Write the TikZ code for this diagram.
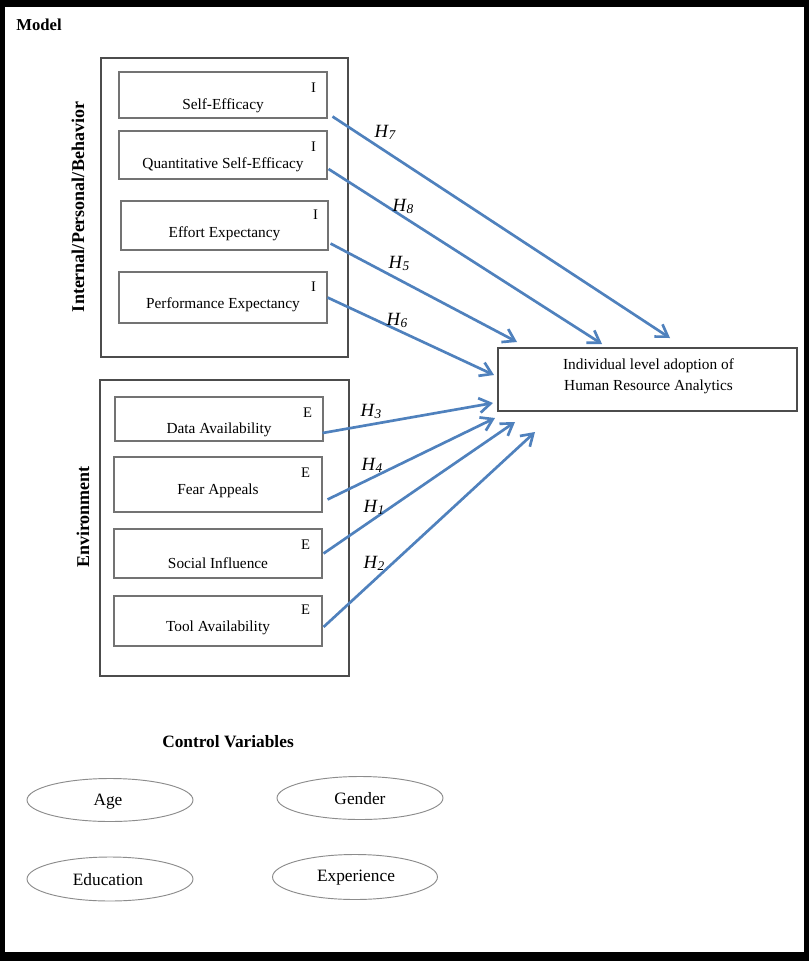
\documentclass[tikz,border=0pt]{standalone}
\usepackage{fontspec}
\setmainfont{Liberation Serif}
\usetikzlibrary{arrows.meta,calc,shapes.geometric}

\begin{document}
\begin{tikzpicture}[x=0.75pt,y=-0.75pt,
  sz/.style 2 args={minimum width=#1*0.75pt,minimum height=#2*0.75pt,inner sep=0pt},
  groupbox/.style={draw=black!70,line width=0.9pt},
  varbox/.style={draw=black!55,line width=0.8pt,fill=white},
  outcome/.style={draw=black!70,line width=0.9pt,fill=white},
  ctrl/.style={draw=black!45,line width=0.7pt,ellipse,inner sep=0pt},
  txt/.style={font=\fontsize{11.5}{13}\selectfont,inner sep=0pt},
  tag/.style={font=\fontsize{11}{13}\selectfont,inner sep=0pt},
  side/.style={font=\fontsize{13.5}{15}\selectfont\bfseries,rotate=90,inner sep=0pt},
  hyp/.style={font=\fontsize{14}{16}\selectfont\itshape,inner sep=0pt},
  link/.style={color={rgb,255:red,79;green,129;blue,189},line width=2pt,
    -{Straight Barb[length=8.5pt,width=11pt,line width=2pt]}},
  ctrltxt/.style={font=\fontsize{13}{15}\selectfont,inner sep=0pt}
]
\newcommand{\hlab}[1]{H\kern0.3pt\raisebox{-1.5pt}{\fontsize{10}{10}\selectfont #1}}

\useasboundingbox (0,0) rectangle (809,961);
% frame
\fill[black] (0,0) rectangle (809,961);
\fill[white] (5,7) rectangle (804,952);

\node[font=\fontsize{12.5}{14}\selectfont\bfseries,anchor=west,inner sep=0pt] (title) at (16,25) {Model};

% group boxes
\node[groupbox,sz={247}{299}] (intgrp) at (224.5,207.5) {};
\node[groupbox,sz={249}{296}] (envgrp) at (224.5,528) {};
\node[side] (intlab) at (78,207) {Internal/Personal/Behavior};
\node[side] (envlab) at (83,517) {Environment};

% internal variables
\node[varbox,sz={208}{46}] (se) at (223,95) {};
\node[txt] (se-t) at ($(se.center)+(0,11)$) {Self-Efficacy};
\node[tag] (se-i) at ($(se.north east)+(-14,16)$) {I};

\node[varbox,sz={208}{48}] (qse) at (223,155) {};
\node[txt] (qse-t) at ($(qse.center)+(0,10)$) {Quantitative Self-Efficacy};
\node[tag] (qse-i) at ($(qse.north east)+(-14,16)$) {I};

\node[varbox,sz={207}{49}] (ee) at (224.5,225.5) {};
\node[txt] (ee-t) at ($(ee.center)+(0,8)$) {Effort Expectancy};
\node[tag] (ee-i) at ($(ee.north east)+(-13,14)$) {I};

\node[varbox,sz={208}{51}] (pe) at (223,297.5) {};
\node[txt] (pe-t) at ($(pe.center)+(0,7)$) {Performance Expectancy};
\node[tag] (pe-i) at ($(pe.north east)+(-14,15)$) {I};

% environment variables
\node[varbox,sz={208}{44}] (da) at (219,419) {};
\node[txt] (da-t) at ($(da.center)+(0,11)$) {Data Availability};
\node[tag] (da-e) at ($(da.north east)+(-16,16)$) {E};

\node[varbox,sz={208}{55}] (fa) at (218,484.5) {};
\node[txt] (fa-t) at ($(fa.center)+(0,6)$) {Fear Appeals};
\node[tag] (fa-e) at ($(fa.north east)+(-17,16)$) {E};

\node[varbox,sz={208}{49}] (si) at (218,553.5) {};
\node[txt] (si-t) at ($(si.center)+(0,10)$) {Social Influence};
\node[tag] (si-e) at ($(si.north east)+(-17,16)$) {E};

\node[varbox,sz={208}{50}] (ta) at (218,621) {};
\node[txt] (ta-t) at ($(ta.center)+(0,7)$) {Tool Availability};
\node[tag] (ta-e) at ($(ta.north east)+(-17,14)$) {E};

% outcome
\node[outcome,sz={299}{63}] (hra) at (647.5,379.5) {};
\node[txt,align=center] (hra-t) at ($(hra.center)+(1,-3)$)
  {Individual level adoption of\\[3pt]Human Resource Analytics};

% arrow targets
\coordinate (t7) at (670,338);
\coordinate (t8) at (602,344);
\coordinate (t5) at (517,342);
\coordinate (t6) at (494,375);
\coordinate (t3) at (493,403);
\coordinate (t4) at (495,418);
\coordinate (t1) at (515,422);
\coordinate (t2) at (535,432);

% hypothesised paths
\draw[link] ($(se.south east)+(5,-2)$) -- (t7);
\draw[link] ($(qse.east)+(1,14)$) -- (t8);
\draw[link] ($(ee.east)+(2,18)$) -- (t5);
\draw[link] ($(pe.east)+(0,0)$) -- (t6);
\draw[link] ($(da.east)+(-1,14)$) -- (t3);
\draw[link] ($(fa.east)+(5,15)$) -- (t4);
\draw[link] ($(si.east)+(1,0)$) -- (t1);
\draw[link] ($(ta.east)+(1,6)$) -- (t2);

\node[hyp] (h7) at (385,132) {\hlab{7}};
\node[hyp] (h8) at (403,206) {\hlab{8}};
\node[hyp] (h5) at (399,263) {\hlab{5}};
\node[hyp] (h6) at (397,320) {\hlab{6}};
\node[hyp] (h3) at (371,411) {\hlab{3}};
\node[hyp] (h4) at (372,465) {\hlab{4}};
\node[hyp] (h1) at (374,507) {\hlab{1}};
\node[hyp] (h2) at (374,563) {\hlab{2}};

% control variables
\node[font=\fontsize{13}{15}\selectfont\bfseries,inner sep=0pt] (ctitle) at (228,742) {Control Variables};
\node[ctrl,sz={166}{43}] (age) at (110,800) {};
\node[ctrltxt] (age-t) at (108,802) {Age};
\node[ctrl,sz={166}{43}] (gen) at (360,798) {};
\node[ctrltxt] (gen-t) at (360,799) {Gender};
\node[ctrl,sz={166}{44}] (edu) at (110,879) {};
\node[ctrltxt] (edu-t) at (108,880) {Education};
\node[ctrl,sz={165}{45}] (exp) at (355,877) {};
\node[ctrltxt] (exp-t) at (356,878) {Experience};
\end{tikzpicture}
\end{document}
